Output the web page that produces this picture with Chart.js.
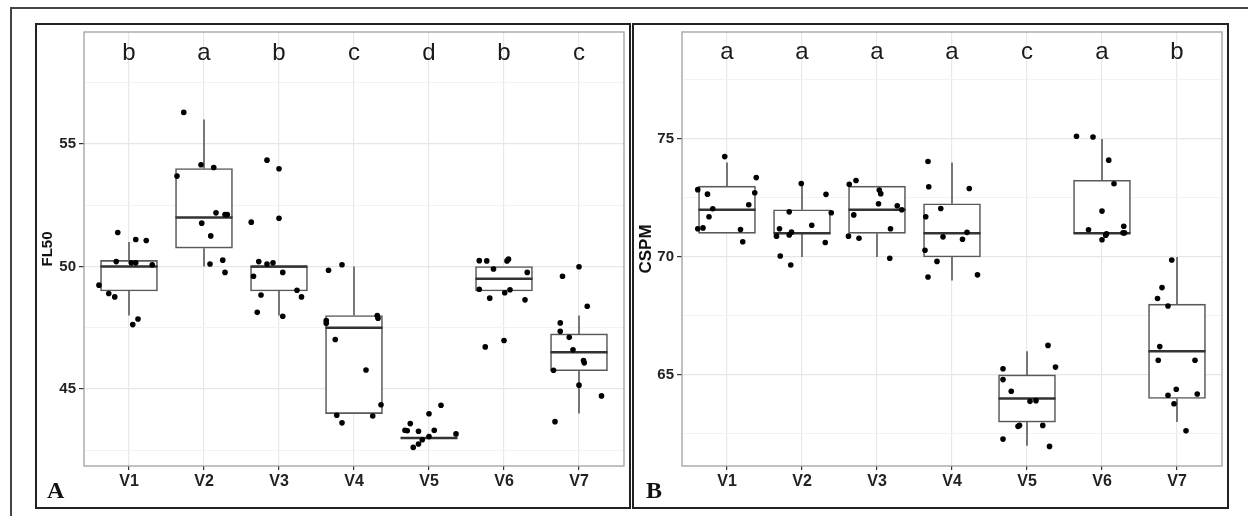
<!DOCTYPE html>
<html>
<head>
<meta charset="utf-8">
<script src="https://cdn.jsdelivr.net/npm/chart.js@4.4.1/dist/chart.umd.min.js"></script>
<style>
  html, body { margin: 0; padding: 0; background: #fff; }
  body { width: 1248px; height: 516px; position: relative; overflow: hidden; font-family: "Liberation Sans", Arial, sans-serif; }
  .outer { position: absolute; left: 10px; top: 7px; width: 1300px; height: 600px; border-left: 2px solid #444; border-top: 2px solid #444; }
  .wrap { position: absolute; top: 0; height: 516px; }
  #wrapA { left: 0; width: 630px; }
  #wrapB { left: 630px; width: 618px; }
  .panel { position: absolute; top: 23px; height: 486px; border: 2px solid #222; box-sizing: border-box; pointer-events: none; }
  #panelA { left: 35px; width: 596px; }
  #panelB { left: 632px; width: 597px; }
  .tag { position: absolute; top: 478px; font: bold 24px "Liberation Serif", "Times New Roman", serif; line-height: 24px; color: #111; }
</style>
</head>
<body>
<div class="outer"></div>
<div class="wrap" id="wrapA"><canvas id="chartA" width="630" height="516"></canvas></div>
<div class="wrap" id="wrapB"><canvas id="chartB" width="618" height="516"></canvas></div>
<div class="panel" id="panelA"></div>
<div class="panel" id="panelB"></div>
<div class="tag" style="left:47px">A</div>
<div class="tag" style="left:646px">B</div>
<script>
const CATEGORIES = ['V1', 'V2', 'V3', 'V4', 'V5', 'V6', 'V7'];

// panel A - FL50
const FL50_LETTERS = ['b', 'a', 'b', 'c', 'd', 'b', 'c'];
const FL50_MIN = [48, 50, 48, 44, 43, 49, 44];
const FL50_Q1 = [49, 50.75, 49, 44, 43, 49, 45.75];
const FL50_MED = [50, 52, 50, 47.5, 43, 49.5, 46.5];
const FL50_Q3 = [50.25, 54, 50, 48, 43, 50, 47.25];
const FL50_MAX = [51, 56, 50, 50, 43, 50, 48];
const FL50_POINTS = [
  [51.39, 51.10, 51.06, 49.24, 48.90, 48.76, 50.20, 50.15, 50.15, 50.07, 47.63, 47.86],
  [56.29, 54.15, 54.04, 53.69, 52.19, 52.12, 52.12, 51.77, 51.25, 50.10, 50.26, 49.76],
  [54.34, 53.99, 51.97, 51.81, 50.20, 50.10, 50.15, 49.76, 49.60, 48.84, 49.03, 48.76, 48.13, 47.97],
  [49.85, 50.07, 47.80, 47.69, 48.00, 47.89, 47.02, 45.78, 44.36, 43.93, 43.90, 43.62],
  [43.59, 43.32, 43.30, 43.28, 43.99, 44.34, 43.32, 43.17, 43.06, 42.93, 42.76, 42.62],
  [50.24, 50.23, 50.23, 50.30, 49.90, 49.76, 49.07, 48.71, 48.93, 49.05, 48.64, 46.98, 46.72],
  [49.99, 49.60, 48.38, 47.70, 47.36, 47.11, 46.60, 46.16, 46.07, 45.77, 45.16, 44.72, 43.67]
];
const FL50_JITTER = [
  [-0.15, 0.09, 0.23, -0.40, -0.27, -0.19, -0.17, 0.03, 0.09, 0.31, 0.05, 0.12],
  [-0.27, -0.04, 0.13, -0.36, 0.16, 0.28, 0.31, -0.03, 0.09, 0.08, 0.25, 0.28],
  [-0.16, 0.00, 0.00, -0.37, -0.27, -0.16, -0.08, 0.05, -0.34, -0.24, 0.24, 0.30, -0.29, 0.05],
  [-0.34, -0.16, -0.37, -0.37, 0.31, 0.32, -0.25, 0.16, 0.36, -0.23, 0.25, -0.16],
  [-0.25, -0.32, -0.29, -0.14, 0.00, 0.16, 0.07, 0.36, 0.00, -0.09, -0.14, -0.21],
  [-0.33, -0.23, 0.04, 0.06, -0.14, 0.31, -0.33, -0.19, 0.01, 0.08, 0.28, 0.00, -0.25],
  [0.00, -0.22, 0.11, -0.25, -0.25, -0.13, -0.08, 0.06, 0.07, -0.34, 0.00, 0.30, -0.32]
];
const FL50_TICKS = [42.5, 45, 47.5, 50, 52.5, 55, 57.5];

// panel B - CSPM
const CSPM_LETTERS = ['a', 'a', 'a', 'a', 'c', 'a', 'b'];
const CSPM_MIN = [71, 70, 70, 69, 62, 71, 63];
const CSPM_Q1 = [71, 71, 71, 70, 63, 71, 64];
const CSPM_MED = [72, 71, 72, 71, 64, 71, 66];
const CSPM_Q3 = [73, 72, 73, 72.25, 65, 73.25, 68];
const CSPM_MAX = [74, 73.1, 73, 74, 66, 75, 70];
const CSPM_POINTS = [
  [74.25, 73.36, 72.85, 72.66, 72.72, 72.21, 72.04, 71.70, 71.19, 71.23, 71.16, 70.64],
  [73.11, 72.65, 71.91, 71.87, 71.34, 71.19, 71.05, 70.93, 70.88, 70.61, 70.04, 69.66],
  [73.24, 73.08, 72.83, 72.68, 72.25, 72.17, 72.00, 71.78, 71.19, 70.88, 70.79, 69.94],
  [74.04, 72.97, 71.70, 70.28, 72.90, 72.05, 70.85, 70.75, 71.04, 69.81, 69.15, 69.24],
  [66.25, 65.33, 65.26, 64.80, 64.31, 63.88, 63.91, 62.82, 62.86, 62.86, 62.28, 61.97],
  [75.11, 75.08, 74.10, 73.10, 71.94, 71.15, 70.98, 70.92, 71.30, 71.02, 71.02, 70.73],
  [69.87, 68.70, 68.24, 67.92, 66.20, 65.62, 65.62, 64.39, 64.14, 64.19, 63.78, 62.63]
];
const CSPM_JITTER = [
  [-0.03, 0.39, -0.39, -0.26, 0.37, 0.29, -0.19, -0.24, -0.39, -0.32, 0.18, 0.21],
  [-0.01, 0.32, -0.17, 0.39, 0.13, -0.30, -0.14, -0.17, -0.34, 0.31, -0.29, -0.15],
  [-0.28, -0.37, 0.03, 0.05, 0.02, 0.27, 0.33, -0.31, 0.18, -0.38, -0.24, 0.17],
  [-0.32, -0.31, -0.35, -0.36, 0.23, -0.15, -0.12, 0.14, 0.20, -0.20, -0.32, 0.34],
  [0.28, 0.38, -0.32, -0.32, -0.21, 0.04, 0.12, -0.12, -0.10, 0.21, -0.32, 0.30],
  [-0.34, -0.12, 0.09, 0.16, 0.00, -0.18, 0.06, 0.05, 0.29, 0.28, 0.30, 0.00],
  [-0.07, -0.20, -0.26, -0.12, -0.23, -0.25, 0.24, -0.01, -0.12, 0.27, -0.04, 0.12]
];
const CSPM_TICKS = [62.5, 65, 67.5, 70, 72.5, 75, 77.5];

const HALF_BOX = 0.38;
const BOX_COLOR = '#595959';
const FONT = '"Liberation Sans", Arial, sans-serif';

// plot panel border, like ggplot theme_bw
const panelBorder = {
  id: 'panelBorder',
  afterDraw(chart) {
    const { ctx, chartArea: a } = chart;
    ctx.save();
    ctx.strokeStyle = '#a0a0a0';
    ctx.lineWidth = 1.3;
    ctx.strokeRect(a.left, a.top, a.right - a.left, a.bottom - a.top);
    ctx.restore();
  }
};

// significance letters above each group
const groupLetters = {
  id: 'groupLetters',
  afterDatasetsDraw(chart, args, opts) {
    const { ctx, scales } = chart;
    ctx.save();
    ctx.font = '24px ' + FONT;
    ctx.fillStyle = '#1a1a1a';
    ctx.textAlign = 'center';
    ctx.textBaseline = 'alphabetic';
    opts.labels.forEach((l, i) => {
      ctx.fillText(l, scales.x.getPixelForValue(i + 1), scales.y.getPixelForValue(opts.y));
    });
    ctx.restore();
  }
};

function buildDatasets(min, q1, med, q3, max, points, jitter) {
  const whiskers = [];
  const medians = [];
  CATEGORIES.forEach((c, i) => {
    const x = i + 1;
    whiskers.push({ x, y: max[i] }, { x, y: q3[i] }, { x, y: null }, { x, y: q1[i] }, { x, y: min[i] }, { x, y: null });
    medians.push({ x: x - HALF_BOX, y: med[i] }, { x: x + HALF_BOX, y: med[i] }, { x, y: null });
  });
  const dots = [];
  points.forEach((arr, i) => arr.forEach((v, j) => dots.push({ x: i + 1 + jitter[i][j], y: v })));

  return [
    { type: 'scatter', data: dots, pointRadius: 2.8, pointBackgroundColor: '#000', pointBorderWidth: 0 },
    { type: 'line', data: medians, borderColor: '#333', borderWidth: 2.6, pointRadius: 0, spanGaps: false },
    {
      type: 'bar', data: CATEGORIES.map((c, i) => ({ x: i + 1, y: [q1[i], q3[i]] })),
      backgroundColor: '#fff', borderColor: BOX_COLOR, borderWidth: 1.6, borderSkipped: false,
      barThickness: 57, grouped: false
    },
    { type: 'line', data: whiskers, borderColor: BOX_COLOR, borderWidth: 1.6, pointRadius: 0, spanGaps: false }
  ];
}

function isMajor(v) { return Math.abs(v % 5) < 1e-9; }

function makeChart(id, opts) {
  return new Chart(document.getElementById(id), {
    type: 'scatter',
    data: { datasets: opts.datasets },
    plugins: [panelBorder, groupLetters],
    options: {
      responsive: false,
      animation: false,
      events: [],
      layout: { padding: opts.padding },
      plugins: {
        legend: { display: false },
        tooltip: { enabled: false },
        groupLetters: { labels: opts.letters, y: opts.letterY }
      },
      scales: {
        x: {
          type: 'linear', min: 0.4, max: 7.6, offset: false,
          afterBuildTicks: s => { s.ticks = CATEGORIES.map((c, i) => ({ value: i + 1 })); },
          afterFit: s => { s.height = 50; },
          ticks: {
            callback: v => CATEGORIES[Math.round(v) - 1],
            font: { family: FONT, size: 16, weight: 'bold' },
            color: '#222', padding: 2, maxRotation: 0, autoSkip: false
          },
          grid: { color: '#e8e8e8', lineWidth: 1.2, tickLength: 4, tickColor: '#333', offset: false },
          border: { display: false }
        },
        y: {
          type: 'linear', min: opts.yMin, max: opts.yMax,
          afterBuildTicks: s => { s.ticks = opts.ticks.map(v => ({ value: v })); },
          afterFit: s => { s.width = opts.yWidth; },
          ticks: {
            callback: v => isMajor(v) ? v : '',
            font: { family: FONT, size: 15, weight: 'bold' },
            color: '#222', padding: 3
          },
          grid: {
            color: ctx => ctx.tick && isMajor(ctx.tick.value) ? '#e6e6e6' : '#f2f2f2',
            lineWidth: ctx => ctx.tick && isMajor(ctx.tick.value) ? 1.2 : 0.9,
            tickColor: ctx => ctx.tick && isMajor(ctx.tick.value) ? '#333' : 'rgba(0,0,0,0)',
            tickLength: 5
          },
          border: { display: false },
          title: {
            display: true, text: opts.title, color: '#111',
            font: { family: FONT, size: opts.titleSize, weight: 'bold' },
            padding: { top: opts.titlePad, bottom: 0 }
          }
        }
      }
    }
  });
}

makeChart('chartA', {
  datasets: buildDatasets(FL50_MIN, FL50_Q1, FL50_MED, FL50_Q3, FL50_MAX, FL50_POINTS, FL50_JITTER),
  letters: FL50_LETTERS, letterY: 58.43,
  yMin: 41.86, yMax: 59.57, ticks: FL50_TICKS, title: 'FL50', titleSize: 15,
  padding: { left: 36, top: 32, right: 6, bottom: 0 }, yWidth: 48, titlePad: 3
});

makeChart('chartB', {
  datasets: buildDatasets(CSPM_MIN, CSPM_Q1, CSPM_MED, CSPM_Q3, CSPM_MAX, CSPM_POINTS, CSPM_JITTER),
  letters: CSPM_LETTERS, letterY: 78.37,
  yMin: 61.14, yMax: 79.53, ticks: CSPM_TICKS, title: 'CSPM', titleSize: 17,
  padding: { left: 3, top: 32, right: 26, bottom: 0 }, yWidth: 49, titlePad: 3.5
});
</script>
</body>
</html>
